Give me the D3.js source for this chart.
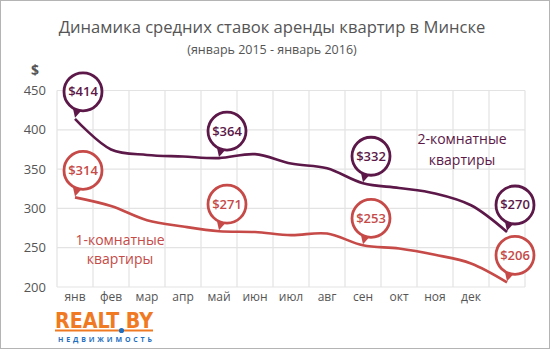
<!DOCTYPE html>
<html><head><meta charset="utf-8">
<script src="https://cdn.jsdelivr.net/npm/d3@7"></script>
<style>body{margin:0;background:#fff}svg{display:block}</style>
</head><body>
<script>
const months = ["янв","фев","мар","апр","май","июн","июл","авг","сен","окт","ноя","дек",""];
const twoRoom = [414, 375, 368, 366, 364, 369, 357, 351, 332, 326, 319, 304, 270];
const oneRoom = [314, 303, 285, 277, 271, 270, 266, 268, 253, 249, 241, 230, 206];
const labeled = [0, 4, 8, 12];
const yTicks = [200, 250, 300, 350, 400, 450];
const title = "Динамика средних ставок аренды квартир в Минске";
const subtitle = "(январь 2015 - январь 2016)";
const C2 = "#5c1848", C1 = "#c64a47", GREY = "#555";
const FONT = "'Open Sans', sans-serif";

const W = 550, H = 350;
const svg = d3.select("body").append("svg").attr("width", W).attr("height", H);
svg.append("rect").attr("x",0.5).attr("y",0.5).attr("width",W-1).attr("height",H-2)
  .attr("fill","#fff").attr("stroke","#b4b4b4");

const x = d3.scaleBand().domain(d3.range(13)).range([57, 525]).padding(0);
const y = d3.scaleLinear().domain([200, 450]).range([287, 90.5]);
const cx = i => x(i) + x.bandwidth()/2;

// grid
const g = svg.append("g");
g.selectAll("line.v").data(d3.range(14)).join("line")
  .attr("x1", i => 57 + i*x.bandwidth()).attr("x2", i => 57 + i*x.bandwidth())
  .attr("y1", y(450)).attr("y2", y(200)).attr("stroke","#e3e3e3").attr("stroke-width",1.2);
g.selectAll("line.h").data(yTicks).join("line")
  .attr("x1", 57).attr("x2", 525).attr("y1", d => y(d)).attr("y2", d => y(d))
  .attr("stroke","#e3e3e3").attr("stroke-width",1.2);

// y axis
const ya = svg.append("g").attr("transform","translate(46,0)")
  .call(d3.axisLeft(y).tickValues(yTicks).tickSize(0).tickPadding(0));
ya.select(".domain").remove();
ya.selectAll("text").attr("font-family",FONT).attr("font-size",13).attr("fill",GREY);
svg.append("text").attr("x",35).attr("y",75).attr("text-anchor","middle")
  .attr("font-family",FONT).attr("font-size",14).attr("font-weight","bold").attr("fill",GREY).text("$");

// x axis
const xa = svg.append("g").attr("transform","translate(0,292)")
  .call(d3.axisBottom(x).tickFormat(i => months[i]).tickSize(0).tickPadding(0));
xa.select(".domain").remove();
xa.selectAll("text").attr("font-family",FONT).attr("font-size",12).attr("fill",GREY).attr("dy","0.71em");

// titles
svg.append("text").attr("x",272).attr("y",33).attr("text-anchor","middle")
  .attr("font-family",FONT).attr("font-size",16.6).attr("fill",GREY).text(title);
svg.append("text").attr("x",272).attr("y",54).attr("text-anchor","middle")
  .attr("font-family",FONT).attr("font-size",12.5).attr("fill",GREY).text(subtitle);

// lines
const line = d3.line().x((d,i)=>cx(i)).y(d=>y(d)).curve(d3.curveCatmullRom.alpha(0.5));
[[twoRoom,C2],[oneRoom,C1]].forEach(([data,col])=>{
  svg.append("path").attr("d", line(data)).attr("fill","none").attr("stroke",col).attr("stroke-width",2.6);
});

// markers
function marker(data, col){
  labeled.forEach(i=>{
    const px = cx(i), py = y(data[i]);
    const mx = px + 8, my = py - 27;
    svg.append("path").attr("d",`M${px},${py-1}L${px-2},${py-10}L${px+8},${py-10}Z`).attr("fill",col);
    svg.append("circle").attr("cx",mx).attr("cy",my).attr("r",19)
      .attr("fill","#fff").attr("stroke",col).attr("stroke-width",2.8);
    svg.append("text").attr("x",mx).attr("y",my+4.5).attr("text-anchor","middle")
      .attr("font-family",FONT).attr("font-size",13).attr("font-weight",600).attr("fill",col)
      .text("$"+data[i]);
  });
}
marker(twoRoom, C2);
marker(oneRoom, C1);

// series labels
const l2 = svg.append("text").attr("font-family",FONT).attr("font-size",14).attr("fill",C2).attr("text-anchor","middle");
l2.append("tspan").attr("x",462).attr("y",144).text("2-комнатные");
l2.append("tspan").attr("x",462).attr("y",165).text("квартиры");
const l1 = svg.append("text").attr("font-family",FONT).attr("font-size",14).attr("fill",C1).attr("text-anchor","middle");
l1.append("tspan").attr("x",120).attr("y",245).text("1-комнатные");
l1.append("tspan").attr("x",120).attr("y",264).text("квартиры");

// logo
const logo = svg.append("g");
logo.append("text").attr("x",104).attr("y",327.5).attr("text-anchor","middle")
  .attr("font-family","'DejaVu Sans Condensed','DejaVu Sans', sans-serif").attr("font-weight","bold").attr("font-size",21)
  .attr("textLength",98).attr("lengthAdjust","spacingAndGlyphs").attr("fill","#f07a23").text("REALT BY");
logo.append("rect").attr("x",55).attr("y",329.5).attr("width",98).attr("height",2).attr("fill","#f07a23");
logo.append("circle").attr("cx",121.5).attr("cy",330.5).attr("r",2.6).attr("fill","#1f6fc0");
logo.append("text").attr("x",105).attr("y",342).attr("text-anchor","middle")
  .attr("font-family",FONT).attr("font-weight","bold").attr("font-size",7)
  .attr("textLength",94).attr("fill","#1f6fc0").text("НЕДВИЖИМОСТЬ");
</script>
</body></html>
